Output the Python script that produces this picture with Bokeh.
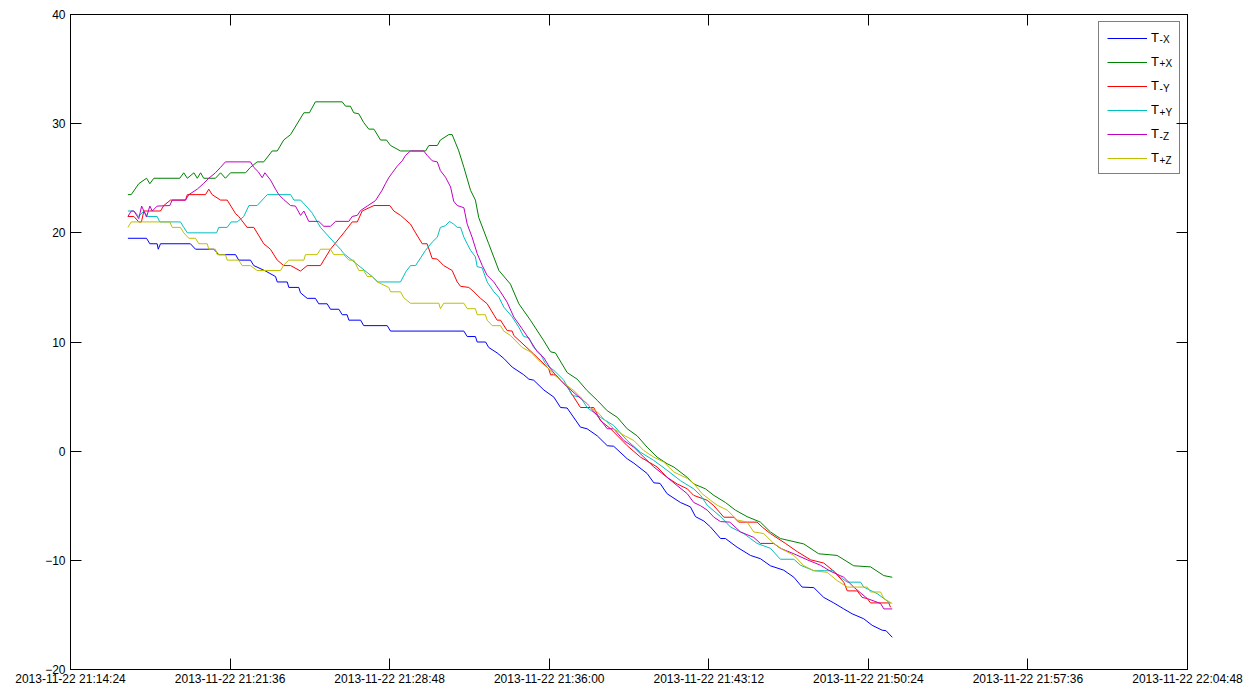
import pandas as pd
from bokeh.plotting import figure
from bokeh.models import (Range1d, FixedTicker, DatetimeTickFormatter, LinearAxis,
                          Legend, LegendItem, Label)
from bokeh.embed import file_html
from bokeh.resources import INLINE

T0 = pd.Timestamp("2013-11-22 21:14:24")
T_END = pd.Timestamp("2013-11-22 22:04:48")

# (minutes after 21:14:24, temperature)
t_minus_x = [(2.59,19.5),(3.43,19.5),(3.58,19.0),(3.91,19.0),(3.96,18.5),(4.06,19.0),(5.41,19.0),(5.64,18.5),
    (6.47,18.5),(6.69,18.0),(7.45,18.0),(7.59,17.5),(8.12,17.5),(8.27,17.0),(8.80,16.5),(9.25,16.0),(9.33,15.5),
    (9.78,15.5),(9.85,15.0),(10.30,15.0),(10.38,14.5),(10.68,14.0),(11.05,14.0),(11.20,13.5),(11.58,13.5),
    (11.73,13.0),(12.11,13.0),(12.26,12.5),(12.48,12.5),(12.56,12.0),(13.09,12.0),(13.23,11.5),(14.29,11.5),
    (14.44,11.0),(17.75,11.0),(17.90,10.5),(18.27,10.5),(18.35,10.0),(18.73,10.0),(18.87,9.5),(19.25,9.0),
    (19.55,8.5),(19.93,7.7),(20.45,7.0),(20.68,6.6),(20.90,6.5),(21.36,5.6),(21.81,4.95),(22.11,4.0),
    (22.41,3.95),(23.01,2.2),(23.31,2.05),(23.77,1.4),(24.22,0.5),(24.51,0.45),(25.12,-0.7),(25.42,-1.1),
    (26.02,-2.05),(26.32,-2.9),(26.60,-2.95),(26.92,-3.9),(27.52,-4.7),(27.97,-5.1),(28.20,-6.0),(28.58,-6.4),
    (28.88,-6.95),(29.33,-8.0),(29.55,-8.0),(30.08,-8.8),(30.68,-9.55),(31.13,-9.85),(31.58,-10.5),
    (32.18,-10.9),(32.64,-11.55),(33.01,-12.45),(33.54,-12.5),(33.99,-13.4),(34.44,-13.9),(34.89,-14.45),
    (35.27,-14.9),(35.79,-15.35),(36.17,-15.95),(36.62,-16.4),(36.80,-16.45),(37.08,-17.05)]

t_plus_x = [(2.59,23.5),(2.74,23.5),(3.08,24.5),(3.43,25.0),(3.58,24.5),(3.76,25.0),(4.93,25.0),(5.11,25.5),
    (5.27,25.0),(5.57,25.5),(5.72,25.0),(5.87,25.5),(6.01,25.0),(6.54,25.0),(6.77,25.5),(6.99,25.0),(7.22,25.5),
    (7.90,25.5),(8.12,26.0),(8.42,26.5),(8.72,26.5),(9.10,27.5),(9.33,27.5),(9.62,28.5),(9.93,29.0),(10.53,31.0),
    (10.78,31.0),(11.05,32.0),(12.26,32.0),(12.41,31.6),(12.63,31.6),(12.78,31.0),(13.01,30.9),(13.23,30.1),
    (13.46,29.5),(13.69,29.5),(13.99,28.5),(14.26,28.5),(14.44,28.0),(14.89,27.5),(16.02,27.5),(16.17,28.0),
    (16.55,28.0),(16.69,28.5),(17.07,29.0),(17.22,29.0),(17.52,27.5),(17.75,26.0),(18.05,23.9),(18.27,23.0),
    (18.42,21.4),(18.87,19.0),(19.33,16.55),(19.85,15.3),(20.23,13.5),(20.75,12.0),(21.36,10.1),(21.66,9.1),
    (21.88,9.0),(22.41,7.2),(22.86,6.6),(23.31,5.55),(23.77,4.65),(24.22,3.7),(24.67,3.1),(25.12,2.05),
    (25.57,1.4),(26.02,0.36),(26.47,-0.55),(26.92,-1.15),(27.22,-1.45),(27.83,-2.4),(28.12,-3.0),(28.65,-3.45),
    (29.03,-4.05),(29.55,-4.7),(30.00,-5.4),(30.53,-6.0),(31.13,-6.5),(31.58,-7.4),(32.03,-8.0),(33.09,-8.5),
    (33.76,-9.4),(34.59,-9.55),(35.34,-10.5),(36.10,-10.6),(36.70,-11.4),(37.08,-11.55)]

t_minus_y = [(2.59,21.5),(2.86,21.5),(3.08,21.0),(3.20,21.0),(3.31,22.0),(4.06,22.0),(4.21,22.5),(4.51,23.0),
    (5.19,23.0),(5.27,23.5),(6.09,23.5),(6.24,24.0),(6.39,23.5),(6.77,23.0),(7.07,23.0),(7.45,21.75),(7.59,21.5),
    (7.97,20.5),(8.27,20.5),(8.72,19.0),(9.02,18.5),(9.33,17.5),(9.62,17.0),(9.93,17.0),(10.38,16.5),(10.68,17.0),
    (11.28,17.0),(11.73,18.5),(12.33,20.0),(12.71,21.0),(12.94,21.0),(13.16,22.0),(13.69,22.5),(14.41,22.5),
    (14.59,22.0),(14.89,21.6),(15.34,20.8),(15.57,20.0),(15.87,19.0),(16.09,19.0),(16.32,17.65),(16.55,17.6),
    (16.84,17.0),(17.22,16.55),(17.45,15.5),(17.60,15.1),(17.97,15.0),(18.20,14.6),(18.50,14.0),(18.80,13.5),
    (19.25,12.0),(19.40,12.0),(19.70,11.05),(19.93,11.0),(20.00,10.6),(20.90,8.9),(21.58,7.55),(21.66,7.0),
    (21.88,7.0),(22.41,5.9),(23.01,4.0),(23.61,4.0),(23.91,2.8),(24.37,2.05),(25.12,0.5),(25.72,-0.55),
    (26.47,-1.45),(26.92,-2.4),(27.37,-3.0),(27.83,-3.45),(28.12,-4.05),(28.73,-4.5),(29.03,-5.0),(29.48,-6.05),
    (29.93,-6.05),(30.15,-6.5),(30.98,-6.5),(31.21,-6.95),(31.58,-7.55),(32.26,-8.45),(32.79,-9.2),(33.39,-9.95),
    (33.99,-10.25),(34.44,-11.0),(34.89,-12.0),(35.05,-12.8),(35.50,-12.8),(35.72,-13.4),(35.95,-13.5),
    (36.10,-13.9),(36.92,-13.9),(37.00,-14.3)]

t_plus_y = [(2.59,22.0),(2.86,22.0),(3.08,21.5),(3.31,22.0),(3.46,21.5),(3.91,21.5),(4.03,21.0),(4.96,21.0),
    (5.11,20.5),(5.27,20.0),(6.59,20.0),(6.69,20.5),(7.07,20.5),(7.25,21.0),(7.52,21.0),(7.82,21.5),(8.05,22.5),
    (8.42,22.5),(8.88,23.5),(9.93,23.5),(10.08,23.0),(10.38,23.0),(10.68,22.35),(10.91,21.8),(11.28,20.5),
    (11.88,19.15),(12.18,18.5),(12.33,18.1),(13.61,16.0),(13.87,15.5),(14.89,15.5),(15.12,16.4),(15.34,17.0),
    (15.57,17.0),(16.02,18.4),(16.32,19.15),(16.55,19.6),(16.69,20.5),(16.92,20.65),(17.10,21.05),(17.29,20.8),
    (17.45,20.5),(17.60,20.5),(17.75,19.6),(17.90,19.0),(18.05,18.4),(18.27,17.8),(18.35,16.9),(18.57,16.8),
    (18.80,15.5),(19.10,14.6),(19.33,14.1),(19.55,13.2),(19.93,12.3),(20.23,11.35),(20.45,10.5),(20.68,10.4),
    (20.90,9.5),(21.21,8.9),(21.43,8.0),(21.51,7.85),(21.81,7.4),(22.26,6.5),(22.64,5.1),(23.01,4.95),
    (23.31,4.0),(23.91,3.1),(24.51,2.35),(25.12,0.97),(25.72,-0.1),(26.32,-0.85),(26.92,-1.75),(27.52,-2.7),
    (28.12,-3.45),(28.43,-4.05),(28.73,-4.95),(29.33,-6.0),(29.78,-6.95),(30.38,-7.55),(30.68,-8.0),
    (30.98,-8.45),(31.58,-8.9),(32.03,-9.9),(32.64,-9.9),(32.94,-10.45),(33.54,-10.95),(34.44,-10.95),
    (34.74,-11.55),(35.05,-12.0),(35.65,-12.0),(35.79,-12.45),(36.40,-13.05),(36.70,-13.5),(37.00,-13.95)]

t_minus_z = [(2.59,21.5),(2.74,22.0),(2.86,22.0),(3.08,21.3),(3.21,22.45),(3.43,21.45),(3.58,22.45),(3.69,22.0),
    (3.91,22.45),(4.48,22.5),(4.59,23.0),(5.19,23.0),(5.34,23.5),(5.72,24.0),(5.99,24.5),(6.24,25.0),(6.54,25.5),
    (6.77,26.0),(6.99,26.5),(8.12,26.5),(8.27,26.0),(8.47,25.6),(8.65,25.05),(8.77,25.5),(9.02,24.85),(9.25,24.0),
    (9.40,23.5),(9.62,23.05),(9.93,22.5),(10.15,22.45),(10.38,21.6),(10.53,22.0),(10.75,21.05),(11.20,21.05),
    (11.43,20.6),(11.73,20.6),(11.96,21.05),(12.56,21.05),(12.71,21.5),(12.94,21.6),(13.09,22.05),(13.39,22.45),
    (13.76,22.95),(14.06,23.9),(14.21,24.5),(14.36,25.05),(14.52,25.5),(14.74,26.1),(14.97,26.6),(15.12,27.1),
    (15.34,27.5),(15.94,27.5),(16.09,27.1),(16.32,26.6),(16.55,26.5),(16.69,25.7),(16.92,25.1),(17.15,24.2),
    (17.29,22.9),(17.45,22.5),(17.75,22.3),(17.90,20.8),(18.12,19.6),(18.35,18.1),(18.58,17.0),(18.80,16.1),
    (19.10,15.5),(19.40,14.6),(19.70,13.65),(20.00,12.3),(20.38,11.2),(20.75,10.1),(21.06,9.1),(21.36,8.55),
    (21.66,7.55),(21.88,7.0),(22.41,5.9),(22.86,5.1),(23.31,4.35),(23.77,3.25),(24.22,2.05),(24.51,2.05),
    (24.97,0.97),(25.42,0.36),(25.87,-0.55),(26.32,-1.45),(26.92,-2.4),(27.37,-3.15),(27.83,-3.9),(28.12,-4.7),
    (28.43,-5.0),(28.73,-5.4),(29.03,-6.05),(29.33,-6.45),(29.75,-6.5),(30.23,-7.4),(30.83,-7.9),(31.13,-8.45),
    (31.73,-8.45),(32.03,-8.9),(32.64,-9.4),(33.24,-9.95),(33.84,-10.45),(34.29,-11.0),(34.89,-11.55),
    (35.34,-12.45),(35.95,-13.5),(36.55,-13.95),(36.70,-14.45),(37.08,-14.45)]

t_plus_z = [(2.59,20.5),(2.74,21.0),(4.48,21.0),(4.59,20.5),(4.96,20.5),(5.11,20.0),(5.34,19.5),(5.64,19.5),
    (5.79,19.0),(6.17,19.0),(6.24,18.5),(6.54,18.5),(6.62,18.0),(6.99,18.0),(7.07,17.5),(7.59,17.5),(7.75,17.0),
    (8.12,17.0),(8.42,16.55),(9.48,16.55),(9.62,17.05),(9.85,17.5),(10.53,17.5),(10.60,18.0),(11.13,18.0),
    (11.28,18.5),(11.73,18.5),(11.88,18.0),(12.33,18.0),(12.56,17.5),(12.78,17.5),(13.01,16.55),(13.23,16.55),
    (13.39,16.0),(13.61,16.0),(13.84,15.5),(14.36,15.0),(14.44,14.6),(14.89,14.6),(15.04,14.05),(15.34,13.55),
    (16.62,13.55),(16.69,13.05),(16.84,13.55),(17.75,13.55),(17.90,13.05),(18.27,13.05),(18.35,12.5),(18.72,12.5),
    (18.80,12.0),(19.03,11.5),(19.40,11.5),(19.55,11.0),(19.85,10.6),(20.38,9.5),(20.75,9.1),(21.21,8.15),
    (21.58,7.55),(21.81,7.0),(22.11,6.55),(22.41,6.0),(22.71,5.55),(23.01,4.95),(23.46,4.0),(23.77,3.6),
    (24.06,2.95),(24.51,2.05),(24.97,1.45),(25.42,0.97),(25.87,0.05),(26.32,-0.55),(26.77,-1.0),(27.22,-1.9),
    (27.83,-2.5),(28.12,-2.95),(28.50,-3.9),(28.88,-4.5),(29.18,-4.95),(29.63,-5.4),(30.08,-6.3),(30.53,-6.5),
    (30.83,-7.4),(31.28,-7.55),(31.73,-8.45),(32.18,-9.05),(32.64,-9.55),(33.09,-10.5),(33.54,-10.95),
    (34.14,-11.1),(34.59,-11.85),(35.05,-12.45),(35.95,-12.45),(36.10,-12.9),(36.55,-12.9),(36.70,-13.5),
    (37.08,-13.95)]

series_subs = ["-X", "+X", "-Y", "+Y", "-Z", "+Z"]
series_data = [t_minus_x, t_plus_x, t_minus_y, t_plus_y, t_minus_z, t_plus_z]
series_colors = ["#0000ff", "#008000", "#ff0000", "#00bfbf", "#bf00bf", "#bfbf00"]

y_ticks = [-20, -10, 0, 10, 20, 30, 40]
x_tick_times = pd.date_range(T0, T_END, freq="432s")
x_tick_ms = [ts.value // 10**6 for ts in x_tick_times]
FMT = "%Y-%m-%d %H:%M:%S"
FONT = "Liberation Sans"

p = figure(width=1248, height=689, x_axis_type="datetime",
           x_range=Range1d(T0, T_END), y_range=Range1d(-20, 40),
           output_backend="svg", toolbar_location=None,
           min_border_left=70, min_border_right=61, min_border_top=14, min_border_bottom=20)
p.xgrid.visible = False
p.ygrid.visible = False
p.outline_line_color = "black"
p.outline_line_width = 1
p.background_fill_color = "white"
p.border_fill_color = "white"

xa = p.xaxis[0]
xa.ticker = FixedTicker(ticks=x_tick_ms)
xa.formatter = DatetimeTickFormatter(microseconds=FMT, milliseconds=FMT, seconds=FMT, minsec=FMT,
                                     minutes=FMT, hourmin=FMT, hours=FMT, days=FMT, months=FMT,
                                     years=FMT, strip_leading_zeros=False)
ya = p.yaxis[0]
ya.ticker = FixedTicker(ticks=y_ticks)
for ax in (xa, ya):
    ax.major_tick_in = 11
    ax.major_tick_out = 0
    ax.minor_tick_line_color = None
    ax.axis_line_color = "black"
    ax.major_tick_line_color = "black"
    ax.major_label_text_font = FONT
    ax.major_label_text_font_size = "12px"
    ax.major_label_text_color = "black"
xa.major_label_standoff = 2
ya.major_label_standoff = 5

# mirrored tick marks on the top and right edges (no labels)
top = LinearAxis(ticker=FixedTicker(ticks=x_tick_ms), major_tick_in=11, major_tick_out=0,
                 minor_tick_line_color=None, major_label_text_font_size="0px",
                 major_label_text_color=None, major_label_standoff=0, axis_line_color="black")
right = LinearAxis(ticker=FixedTicker(ticks=y_ticks), major_tick_in=11, major_tick_out=0,
                   minor_tick_line_color=None, major_label_text_font_size="0px",
                   major_label_text_color=None, major_label_standoff=0, axis_line_color="black")
p.add_layout(top, "above")
p.add_layout(right, "right")

items = []
for sub, data, color in zip(series_subs, series_data, series_colors):
    mins = [d[0] for d in data]
    vals = [d[1] for d in data]
    times = T0 + pd.to_timedelta(mins, unit="min")
    r = p.line(times, vals, line_color=color, line_width=1)
    items.append(LegendItem(label="T", renderers=[r]))

legend = Legend(items=items, location="top_right", margin=7, padding=8, spacing=9,
                glyph_width=40, glyph_height=14, label_height=14, label_width=20,
                label_standoff=4, label_text_font=FONT, label_text_font_size="13px",
                label_text_color="black",
                border_line_color="black", border_line_width=1,
                background_fill_color="white", background_fill_alpha=0.0)
p.add_layout(legend)

# subscripts of the legend labels
sub_x = T0 + pd.Timedelta(minutes=49.14)
for i, sub in enumerate(series_subs):
    p.add_layout(Label(x=sub_x, y=37.7 - 2.217 * i, text=sub,
                       text_font=FONT, text_font_size="10px", text_baseline="middle",
                       text_align="left", text_color="black"))

open("out.html", "w").write(file_html(p, INLINE))
